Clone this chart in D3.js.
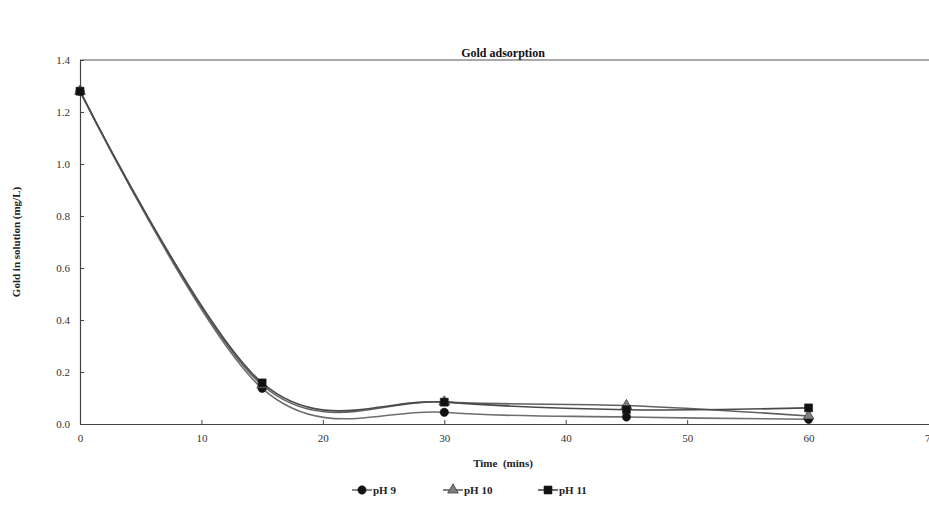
<!DOCTYPE html>
<html>
<head>
<meta charset="utf-8">
<script src="https://cdn.jsdelivr.net/npm/d3@7"></script>
<style>
  html, body { margin: 0; padding: 0; background: #fff; }
  svg { display: block; }
  svg text { font-family: "Liberation Serif", "Times New Roman", "DejaVu Serif", serif; }
</style>
</head>
<body>
<svg id="chart" width="929" height="509"></svg>
<script>
// Sampling times (minutes)
const times = [0, 15, 30, 45, 60];

// Gold remaining in solution (mg/L) for each pH
const ph9  = [1.28, 0.137, 0.045, 0.027, 0.018];
const ph10 = [1.28, 0.150, 0.085, 0.071, 0.031];
const ph11 = [1.28, 0.158, 0.084, 0.055, 0.062];

const seriesNames = ["pH 9", "pH 10", "pH 11"];
const seriesValues = [ph9, ph10, ph11];
const seriesMarkers = ["circle", "triangle", "square"];
const seriesMarkerFill = ["#111", "#7f7f7f", "#111"];
const seriesLine = ["#6e6e6e", "#606060", "#4a4a4a"];

const xTicks = [0, 10, 20, 30, 40, 50, 60, 70];
const yTicks = [0, 0.2, 0.4, 0.6, 0.8, 1.0, 1.2, 1.4];

const FONT = "'Liberation Serif', 'Times New Roman', 'DejaVu Serif', serif";

const svg = d3.select("#chart");

const plot = { left: 80, right: 930, top: 60, bottom: 424 };

const x = d3.scaleLinear().domain([0, 70]).range([plot.left, plot.right]);
const y = d3.scaleLinear().domain([0, 1.4]).range([plot.bottom, plot.top]);

// Title
svg.append("text")
  .attr("x", 503).attr("y", 57)
  .attr("text-anchor", "middle")
  .attr("font-family", FONT)
  .attr("font-size", 12).attr("font-weight", "bold")
  .attr("fill", "#111")
  .text("Gold adsorption");

// Top frame line
svg.append("line")
  .attr("x1", plot.left).attr("x2", plot.right)
  .attr("y1", plot.top).attr("y2", plot.top)
  .attr("stroke", "#555").attr("stroke-width", 1.2);

// X axis (ticks pointing inward)
const xAxis = svg.append("g")
  .attr("transform", `translate(0,${plot.bottom})`)
  .call(d3.axisBottom(x).tickValues(xTicks).tickSizeInner(-4).tickSizeOuter(0).tickPadding(10)
    .tickFormat(d3.format("d")));

// Y axis (ticks pointing inward)
const yAxis = svg.append("g")
  .attr("transform", `translate(${plot.left},0)`)
  .call(d3.axisLeft(y).tickValues(yTicks).tickSizeInner(-4).tickSizeOuter(0).tickPadding(10)
    .tickFormat(d3.format(".1f")));

[xAxis, yAxis].forEach(g => {
  g.attr("font-family", FONT);
  g.select(".domain").attr("stroke", "#444").attr("stroke-width", 1.2);
  g.selectAll(".tick line").attr("stroke", "#444");
  g.selectAll(".tick text")
    .attr("font-family", FONT)
    .attr("font-size", 11).attr("fill", "#333");
});

// Axis titles
svg.append("text")
  .attr("x", 503).attr("y", 467)
  .attr("text-anchor", "middle")
  .attr("font-family", FONT)
  .attr("font-size", 11).attr("font-weight", "bold")
  .attr("fill", "#222")
  .attr("xml:space", "preserve")
  .text("Time  (mins)");

svg.append("text")
  .attr("transform", `translate(20,${(plot.top + plot.bottom) / 2}) rotate(-90)`)
  .attr("text-anchor", "middle")
  .attr("font-family", FONT)
  .attr("font-size", 11).attr("font-weight", "bold")
  .attr("fill", "#222")
  .text("Gold in solution (mg/L)");

// Smoothed lines
const line = d3.line()
  .x((d, i) => x(times[i]))
  .y(d => y(d))
  .curve(d3.curveCardinal.tension(0));

const symbolType = { circle: d3.symbolCircle, triangle: d3.symbolTriangle, square: d3.symbolSquare };
const symbolSize = { circle: 55, triangle: 50, square: 64 };

seriesValues.forEach((vals, s) => {
  svg.append("path")
    .datum(vals)
    .attr("d", line)
    .attr("fill", "none")
    .attr("stroke", seriesLine[s])
    .attr("stroke-width", 1.6);
});

seriesValues.forEach((vals, s) => {
  const m = seriesMarkers[s];
  svg.append("g").selectAll("path")
    .data(vals)
    .join("path")
    .attr("transform", (d, i) => `translate(${x(times[i])},${y(d)})`)
    .attr("d", d3.symbol().type(symbolType[m]).size(symbolSize[m]))
    .attr("fill", seriesMarkerFill[s])
    .attr("stroke", "#222").attr("stroke-width", 0.6);
});

// Legend
const legendX = [352, 443, 538];
const legendY = 490;
seriesNames.forEach((name, s) => {
  const g = svg.append("g").attr("transform", `translate(${legendX[s]},${legendY})`);
  g.append("line")
    .attr("x1", 0).attr("x2", 20).attr("y1", 0).attr("y2", 0)
    .attr("stroke", seriesLine[s]).attr("stroke-width", 1.6);
  const m = seriesMarkers[s];
  g.append("path")
    .attr("transform", "translate(10,0)")
    .attr("d", d3.symbol().type(symbolType[m]).size(symbolSize[m]))
    .attr("fill", seriesMarkerFill[s])
    .attr("stroke", "#222").attr("stroke-width", 0.6);
  g.append("text")
    .attr("x", 21).attr("y", 4)
    .attr("font-family", FONT)
    .attr("font-size", 11).attr("font-weight", "bold")
    .attr("fill", "#222")
    .text(name);
});
</script>
</body>
</html>
